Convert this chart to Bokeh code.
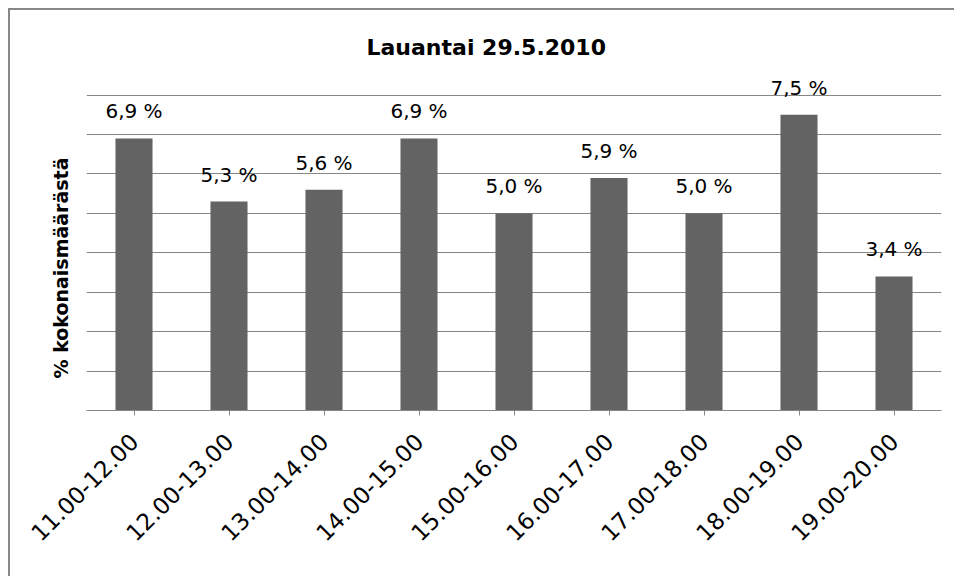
from bokeh.plotting import figure
from bokeh.models import ColumnDataSource, LabelSet, FactorRange, FixedTicker, Title
from bokeh.core.properties import value
from bokeh.embed import file_html
from bokeh.resources import INLINE
import math

categories = ["11.00-12.00", "12.00-13.00", "13.00-14.00", "14.00-15.00", "15.00-16.00",
              "16.00-17.00", "17.00-18.00", "18.00-19.00", "19.00-20.00"]
values = [6.9, 5.3, 5.6, 6.9, 5.0, 5.9, 5.0, 7.5, 3.4]
labels = ["6,9 %", "5,3 %", "5,6 %", "6,9 %", "5,0 %", "5,9 %", "5,0 %", "7,5 %", "3,4 %"]
y_ticks = [0, 1, 2, 3, 4, 5, 6, 7, 8]

FONT = "DejaVu Sans"

src = ColumnDataSource(dict(cat=categories, val=values, lab=labels))

p = figure(x_range=FactorRange(*categories, range_padding=0), y_range=(0, 8.7),
           width=946, height=568, output_backend="svg", toolbar_location=None,
           min_border_left=76, min_border_right=15, min_border_top=57, min_border_bottom=168)

p.vbar(x="cat", top="val", width=0.39, source=src, fill_color="#636363", line_color=None)

p.add_layout(LabelSet(x="cat", y="val", text="lab", source=src, text_align="center",
                      text_baseline="bottom", y_offset=15, text_font=value(FONT),
                      text_font_size=value("20px"), text_color=value("#000000")))

p.title.text = "Lauantai 29.5.2010"
p.title.align = "left"
p.title.offset = 280
p.title.standoff = 16
p.title.text_font = FONT
p.title.text_font_size = "22px"
p.title.text_font_style = "bold"
p.title.text_color = "#000000"

ytitle = Title(text="% kokonaismäärästä", align="left", offset=32, standoff=29,
               text_font=FONT, text_font_size="19px", text_font_style="bold",
               text_color="#000000")
p.add_layout(ytitle, "left")

p.outline_line_color = None
p.background_fill_color = None
p.border_fill_color = "white"

p.xgrid.grid_line_color = None
p.ygrid.ticker = FixedTicker(ticks=y_ticks)
p.ygrid.grid_line_color = "#868686"
p.ygrid.grid_line_width = 1

p.yaxis.visible = False

p.xaxis.axis_line_color = "#868686"
p.xaxis.major_tick_line_color = "#868686"
p.xaxis.major_tick_in = 0
p.xaxis.major_tick_out = 5
p.xaxis.major_label_orientation = math.pi / 4
p.xaxis.major_label_text_font = FONT
p.xaxis.major_label_text_font_size = "23px"
p.xaxis.major_label_text_color = "#000000"
p.xaxis.major_label_standoff = 22

p.styles = {"border-left": "2px solid #888888", "border-top": "2px solid #888888",
            "margin-left": "8px", "margin-top": "8px"}

open("out.html", "w").write(file_html(p, INLINE))
